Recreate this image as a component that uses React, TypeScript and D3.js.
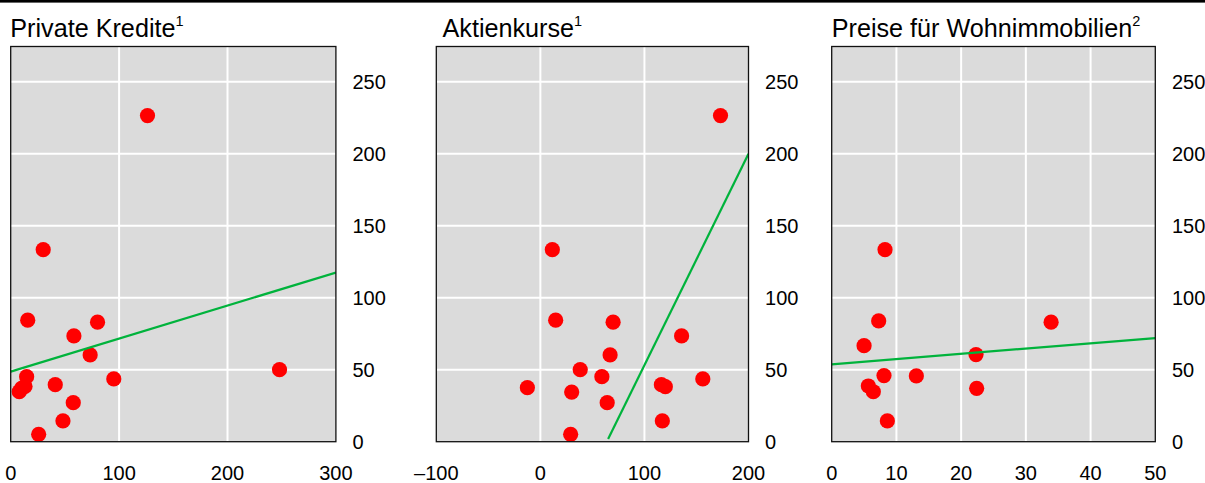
import React from "react";
import * as d3 from "d3";

// ---- data ----
const titles = ["Private Kredite", "Aktienkurse", "Preise für Wohnimmobilien"];
const titleNotes = ["1", "1", "2"];

const yTicks = [0, 50, 100, 150, 200, 250];
const yMax = 274.5;

const krediteTicks = [0, 100, 200, 300];
const krediteX = [126.2, 30.0, 15.7, 80.1, 58.3, 73.3, 248, 14.7, 95.1, 41.1, 13.2, 10.0, 7.9, 57.7, 48.2, 25.8];
const krediteY = [226.5, 133.4, 84.4, 83.0, 73.5, 60.3, 50.0, 45.2, 43.6, 39.6, 38.4, 37.0, 34.7, 27.1, 14.4, 5.1];
const krediteLine = [[0, 48.7], [300, 117.5]];

const aktienTicks = [-100, 0, 100, 200];
const aktienX = [173.1, 11.5, 14.7, 69.9, 135.7, 67.0, 38.3, 59.1, 156.1, 116.3, 120.1, -12.5, 30.1, 64.2, 117.2, 29.1];
const aktienY = [226.5, 133.4, 84.4, 83.0, 73.5, 60.3, 50.0, 45.2, 43.6, 39.6, 38.2, 37.5, 34.5, 27.1, 14.4, 5.1];
const aktienLine = [[65.1, 1.9], [200, 200]];

const wohnTicks = [0, 10, 20, 30, 40, 50];
const wohnX = [8.24, 7.26, 33.9, 5.0, 22.3, 8.08, 13.08, 5.66, 22.4, 6.43, 8.6];
const wohnY = [133.4, 83.9, 83.0, 66.7, 60.5, 45.9, 45.7, 38.7, 37.1, 34.7, 14.4];
const wohnLine = [[0, 53.7], [50, 72.0]];

// ---- layout ----
const W = 1205;
const H = 483;
const plotTop = 46.5;
const plotBottom = 441.7;
const panelRanges: [number, number][] = [
  [10.7, 335.9],
  [436.3, 748.5],
  [831.7, 1155.3],
];
const titleX = [10.3, 442.5, 831.7];

const BG = "#dbdbdb";
const RED = "#ff0000";
const GREEN = "#00b33c";
const FONT = "Arial, 'Liberation Sans', Helvetica, sans-serif";

type Panel = {
  ticks: number[];
  xs: number[];
  ys: number[];
  line: number[][];
  fmt: (v: number) => string;
};

const fmtNum = (v: number) => (v < 0 ? "\u2013" + Math.abs(v) : String(v));

const panels: Panel[] = [
  { ticks: krediteTicks, xs: krediteX, ys: krediteY, line: krediteLine, fmt: fmtNum },
  { ticks: aktienTicks, xs: aktienX, ys: aktienY, line: aktienLine, fmt: fmtNum },
  { ticks: wohnTicks, xs: wohnX, ys: wohnY, line: wohnLine, fmt: fmtNum },
];

export default function App() {
  const y = d3.scaleLinear().domain([0, yMax]).range([plotBottom, plotTop]);
  return (
    <svg
      width={W}
      height={H}
      style={{ position: "absolute", left: 0, top: 0, background: "#fff" }}
      fontFamily={FONT}
    >
      <rect x={0} y={0} width={W} height={2.6} fill="#000" />
      {panels.map((p, i) => {
        const [x0, x1] = panelRanges[i];
        const dom = d3.extent(p.ticks) as [number, number];
        const x = d3.scaleLinear().domain(dom).range([x0, x1]);
        const lineGen = d3
          .line<number[]>()
          .x((d) => x(d[0]))
          .y((d) => y(d[1]));
        const clipId = `clip${i}`;
        return (
          <g key={i}>
            <defs>
              <clipPath id={clipId}>
                <rect x={x0} y={plotTop} width={x1 - x0} height={plotBottom - plotTop} />
              </clipPath>
            </defs>
            <text x={titleX[i]} y={36.7} fontSize={25.2} fill="#000">
              {titles[i]}
              <tspan fontSize={14.5} dy={-10.5}>
                {titleNotes[i]}
              </tspan>
            </text>
            <rect x={x0} y={plotTop} width={x1 - x0} height={plotBottom - plotTop} fill={BG} />
            {p.ticks.slice(1, -1).map((t) => (
              <line key={"vx" + t} x1={x(t)} x2={x(t)} y1={plotTop} y2={plotBottom} stroke="#fff" strokeWidth={2} />
            ))}
            {yTicks.slice(1).map((t) => (
              <line key={"hy" + t} x1={x0} x2={x1} y1={y(t)} y2={y(t)} stroke="#fff" strokeWidth={2} />
            ))}
            <g clipPath={`url(#${clipId})`}>
              {p.xs.map((xv, j) => (
                <circle key={j} cx={x(xv)} cy={y(p.ys[j])} r={7.6} fill={RED} />
              ))}
              <path d={lineGen(p.line) || ""} fill="none" stroke={GREEN} strokeWidth={2.2} />
            </g>
            <rect
              x={x0}
              y={plotTop}
              width={x1 - x0}
              height={plotBottom - plotTop}
              fill="none"
              stroke="#111"
              strokeWidth={1.3}
            />
            {yTicks.map((t) => (
              <text key={"yl" + t} x={x1 + 16.6} y={y(t)} dy="0.36em" fontSize={20} fill="#000">
                {t}
              </text>
            ))}
            {p.ticks.map((t) => (
              <text key={"xl" + t} x={x(t)} y={480} textAnchor="middle" fontSize={20} fill="#000">
                {p.fmt(t)}
              </text>
            ))}
          </g>
        );
      })}
    </svg>
  );
}
